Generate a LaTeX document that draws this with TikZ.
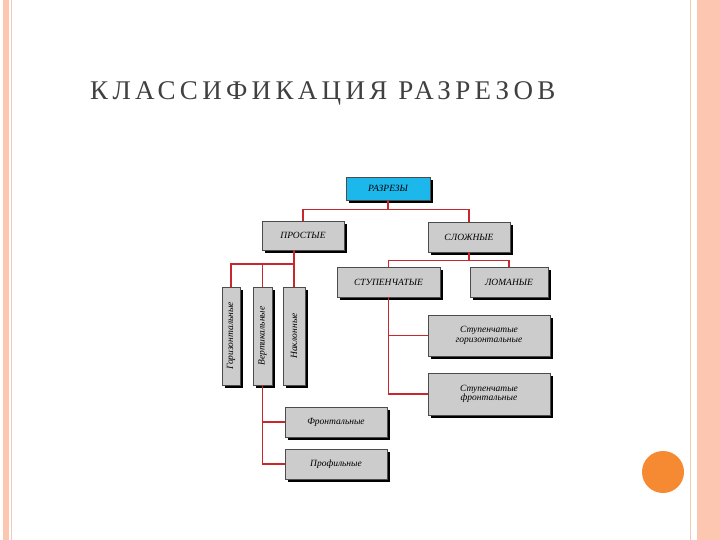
\documentclass[tikz,border=0pt]{standalone}
\usepackage{fontspec}
\setmainfont{Liberation Serif}
\newfontfamily\ttlfont[LetterSpace=16]{Liberation Serif}
\definecolor{band}{HTML}{FCC6B0}
\definecolor{bandl}{HTML}{F2C9B5}
\definecolor{orng}{HTML}{F68A33}
\definecolor{cyanb}{HTML}{1CB8EC}
\definecolor{boxg}{HTML}{CCCCCC}
\definecolor{conn}{HTML}{C8282D}
\definecolor{ttl}{HTML}{404040}
\tikzset{
  bx/.style={draw=black!70,line width=0.4pt,fill=boxg,inner sep=1pt,align=center,
    font=\itshape\fontsize{9.5}{9.5}\selectfont,
    drop shadow={shadow xshift=3pt,shadow yshift=-3pt,fill=black,opacity=1}},
  cn/.style={draw=conn,line width=1.1pt}
}
\usetikzlibrary{shadows}
\begin{document}
\begin{tikzpicture}[x=1pt,y=-1pt]
\useasboundingbox (0,0) rectangle (720,540);
\fill[white] (0,0) rectangle (720,540);
% slide decoration
\fill[band] (3,0) rectangle (9,540);
\draw[bandl,line width=0.8pt] (11.5,0) -- (11.5,540);
\draw[bandl,line width=1pt] (690,0) -- (690,540);
\fill[band] (697,0) rectangle (720,540);
\fill[orng] (663,472) circle (21);
\node[anchor=west,text=ttl,inner sep=0pt,font=\ttlfont\fontsize{27}{29}\selectfont] (title) at (90,93) {КЛАССИФИКАЦИЯ РАЗРЕЗОВ};
% boxes
\node[bx,fill=cyanb,minimum width=84pt,minimum height=23pt] (raz) at (388,188.5) {РАЗРЕЗЫ};
\node[bx,minimum width=82pt,minimum height=29pt] (pro) at (303,235.5) {ПРОСТЫЕ};
\node[bx,minimum width=82pt,minimum height=30pt] (slo) at (469,237) {СЛОЖНЫЕ};
\node[bx,minimum width=103pt,minimum height=30pt] (stu) at (388.5,282) {СТУПЕНЧАТЫЕ};
\node[bx,minimum width=78pt,minimum height=30pt] (lom) at (509,282) {ЛОМАНЫЕ};
\node[bx,minimum width=98pt,minimum height=18pt,rotate=90] (gor) at (231,336) {Горизонтальные};
\node[bx,minimum width=98pt,minimum height=19pt,rotate=90] (ver) at (262.5,336) {Вертикальные};
\node[bx,minimum width=98pt,minimum height=22pt,rotate=90] (nak) at (294,336) {Наклонные};
\node[bx,minimum width=122pt,minimum height=41pt] (sg) at (489,335.5) {Ступенчатые\\горизонтальные};
\node[bx,minimum width=122pt,minimum height=42pt] (sf) at (489,394) {Ступенчатые\\фронтальные};
\node[bx,minimum width=102pt,minimum height=30pt] (fro) at (336,422) {Фронтальные};
\node[bx,minimum width=102pt,minimum height=30pt] (prf) at (336,464) {Профильные};
% connectors
\draw[cn] (raz.south) -- ++(0,9) coordinate (r1);
\draw[cn] (pro.north) |- (r1) -| (slo.north);
\draw[cn] (slo.south) -- ++(0,8) coordinate (s1);
\draw[cn] (stu.north) |- (s1) -| (lom.north);
\draw[cn] (nak.east |- pro.south) -- (nak.east);
\draw[cn] (gor.east) |- (nak.east |- 0,264);
\draw[cn] (ver.east) -- (ver.east |- 0,264);
\draw[cn] (stu.south) |- (sf.west);
\draw[cn] (stu.south |- sg.west) -- (sg.west);
\draw[cn] (ver.west) |- (prf.west);
\draw[cn] (ver.west |- fro.west) -- (fro.west);
\end{tikzpicture}
\end{document}
